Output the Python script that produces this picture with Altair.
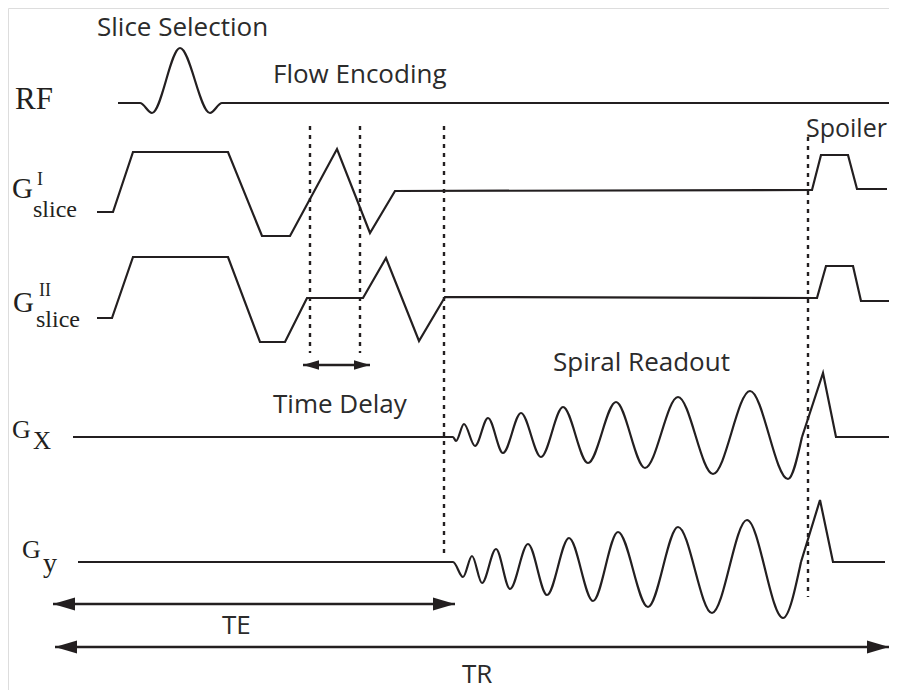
import altair as alt
import pandas as pd

INK = "#231f20"
TXT = "#2b2b2b"

# ---- waveform vertices ----
RF_X = [118, 140, 152, 180, 210, 222, 889]
RF_Y = [103, 103, 113, 48, 113, 103, 103]

G1_X = [97, 113, 133, 228, 262, 290, 337, 370, 395, 812, 821, 848, 857, 887]
G1_Y = [212, 212, 152, 152, 236, 236, 149, 233, 191, 190, 155, 155, 189, 189]

G2_X = [97, 112, 133, 228, 260, 285, 307, 363, 386, 419, 445, 817, 826, 853, 861, 889]
G2_Y = [318, 318, 257, 257, 342, 342, 298, 298, 258, 341, 297, 298, 266, 266, 301, 301]

GX_OSC_X = [73, 453, 456, 464, 475, 488, 503, 521, 541, 563, 588, 616, 645, 678, 713, 750, 788, 802]
GX_OSC_Y = [437, 437, 441, 424, 446, 418, 453, 413, 457, 407, 463, 402, 468, 397, 474, 391, 479, 437]
GX_SP_X = [802, 823, 836, 889]
GX_SP_Y = [437, 373, 437, 437]

GY_OSC_X = [78, 453, 463, 472, 482, 496, 510, 528, 547, 569, 593, 618, 648, 678, 712, 747, 783, 801]
GY_OSC_Y = [562, 562, 577, 556, 583, 549, 589, 544, 595, 538, 601, 532, 607, 527, 613, 520, 618, 562]
GY_SP_X = [801, 820, 833, 885]
GY_SP_Y = [562, 500, 562, 562]

# dotted timing markers
DOT_X = [310, 360, 444, 808]
DOT_Y1 = [126, 126, 126, 137]
DOT_Y2 = [353, 353, 553, 597]

# double arrows (Time Delay, TE, TR)
ARR_Y = [365, 604, 647]
ARR_X1 = [303, 53, 55]
ARR_X2 = [370, 455, 889]
ARR_SIZE = [1024, 1936, 1936]

# annotation text (sans)
SANS_TEXT = ["Slice Selection", "Flow Encoding", "Spoiler", "Spiral Readout", "Time Delay", "TE", "TR"]
SANS_X = [97, 273, 806, 553, 273, 222, 462]
SANS_Y = [36, 83, 137, 371, 413, 634, 683]
SANS_SIZE = [26, 26, 25, 26, 26, 26, 26]

# channel labels (serif)
SERIF_TEXT = ["RF", "G", "I", "slice", "G", "II", "slice", "G", "X", "G", "y"]
SERIF_X = [15, 12, 37, 33, 13, 39, 36, 12, 33, 22, 43]
SERIF_Y = [109, 198, 185, 217, 312, 296, 327, 438, 449, 558, 572]
SERIF_SIZE = [31, 29, 18, 24, 29, 18, 24, 26, 25, 26, 28]

# plot area spans page pixels 8..889 x 8..690
xs = alt.Scale(domain=[8, 889], nice=False, zero=False)
ys = alt.Scale(domain=[8, 690], nice=False, zero=False, reverse=True)


def enc_xy():
    return dict(x=alt.X("x:Q", scale=xs, axis=None), y=alt.Y("y:Q", scale=ys, axis=None))


def wave(xv, yv, interp):
    df = pd.DataFrame({"x": xv, "y": yv, "i": list(range(len(xv)))})
    return alt.Chart(df).mark_line(
        interpolate=interp, color=INK, strokeWidth=2.2, strokeJoin="miter"
    ).encode(order="i:Q", **enc_xy())


layers = [
    wave(RF_X, RF_Y, "monotone"),
    wave(G1_X, G1_Y, "linear"),
    wave(G2_X, G2_Y, "linear"),
    wave(GX_OSC_X, GX_OSC_Y, "monotone"),
    wave(GX_SP_X, GX_SP_Y, "linear"),
    wave(GY_OSC_X, GY_OSC_Y, "monotone"),
    wave(GY_SP_X, GY_SP_Y, "linear"),
]

dots = pd.DataFrame({"x": DOT_X, "y": DOT_Y1, "y2": DOT_Y2})
layers.append(
    alt.Chart(dots).mark_rule(color=INK, strokeWidth=2.4, strokeDash=[4, 5]).encode(
        x=alt.X("x:Q", scale=xs, axis=None),
        y=alt.Y("y:Q", scale=ys, axis=None),
        y2="y2:Q",
    )
)

arr = pd.DataFrame({"x": ARR_X1, "x2": ARR_X2, "y": ARR_Y, "s": ARR_SIZE})
layers.append(
    alt.Chart(arr).mark_rule(color=INK, strokeWidth=2.4).encode(
        x=alt.X("x:Q", scale=xs, axis=None),
        x2="x2:Q",
        y=alt.Y("y:Q", scale=ys, axis=None),
    )
)
left_heads = pd.DataFrame({"x": ARR_X1, "y": ARR_Y, "s": ARR_SIZE})
right_heads = pd.DataFrame({"x": ARR_X2, "y": ARR_Y, "s": ARR_SIZE})
layers.append(
    alt.Chart(left_heads).mark_point(
        shape="M0,0L1,-0.3L1,0.3Z", filled=True, color=INK, opacity=1, strokeWidth=0
    ).encode(size=alt.Size("s:Q", scale=None), **enc_xy())
)
layers.append(
    alt.Chart(right_heads).mark_point(
        shape="M0,0L-1,-0.3L-1,0.3Z", filled=True, color=INK, opacity=1, strokeWidth=0
    ).encode(size=alt.Size("s:Q", scale=None), **enc_xy())
)

sans = pd.DataFrame({"x": SANS_X, "y": SANS_Y, "t": SANS_TEXT, "s": SANS_SIZE})
layers.append(
    alt.Chart(sans).mark_text(
        font="Open Sans", color=TXT, align="left", baseline="alphabetic"
    ).encode(text="t:N", size=alt.Size("s:Q", scale=None), **enc_xy())
)

serif = pd.DataFrame({"x": SERIF_X, "y": SERIF_Y, "t": SERIF_TEXT, "s": SERIF_SIZE})
layers.append(
    alt.Chart(serif).mark_text(
        font="Liberation Serif", color=INK, align="left", baseline="alphabetic"
    ).encode(text="t:N", size=alt.Size("s:Q", scale=None), **enc_xy())
)

chart = alt.layer(*layers).properties(
    width=881, height=682, padding=0, autosize=alt.AutoSizeParams(type="none")
).configure_view(stroke=None).configure(background="white")

chart.save("out.html", embed_options={"renderer": "svg", "actions": False})
